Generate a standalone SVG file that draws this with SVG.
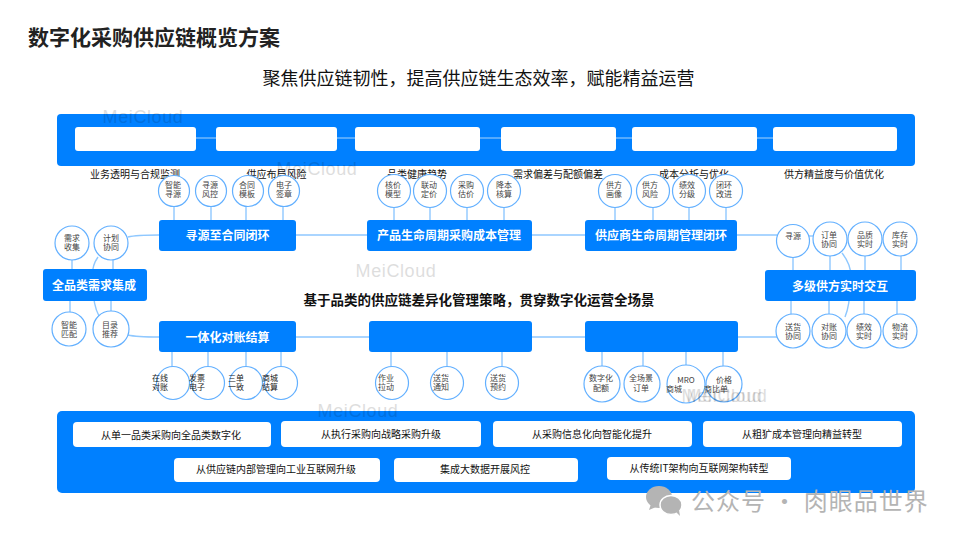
<svg xmlns="http://www.w3.org/2000/svg" width="960" height="540" viewBox="0 0 960 540">
<style>
text{font-family:"Noto Sans CJK SC","Microsoft YaHei",sans-serif;text-anchor:middle}
.band,.box{fill:#0080ff}
.w{fill:#fff}
.c{fill:#fff;stroke:#63b0ff;stroke-width:1.2}
.cx{fill:none;stroke:#63b0ff;stroke-width:1.2}
.ct{font-size:8px;fill:#444}
.cd{font-size:8px;fill:#222}
.bt{font-size:12px;font-weight:700;fill:#fff}
.lb{font-size:10px;fill:#111}
.wt{font-size:10px;fill:#111}
.wm{font-family:"Liberation Sans",sans-serif;font-size:18px;fill:#000;opacity:.13;letter-spacing:.6px}
#connectors path{fill:none;stroke:#8fc8ff;stroke-width:1.4}
#connectors path.th{stroke:#a9d4fb;stroke-width:1}
</style>
<rect width="960" height="540" fill="#fff"/>
<text x="154" y="45" font-size="21" font-weight="700" fill="#222">数字化采购供应链概览方案</text>
<text x="478.500" y="85" font-size="18" fill="#111">聚焦供应链韧性，提高供应链生态效率，赋能精益运营</text>
<text x="479" y="305" font-size="13.500" font-weight="700" fill="#111">基于品类的供应链差异化管理策略，贯穿数字化运营全场景</text>

<rect class="band" x="57" y="114" width="858" height="52" rx="4"/>
<rect class="band" x="57" y="411" width="858" height="82" rx="5"/>

<g id="connectors">
<path class="th" d="M196 138H216M337 138H355M480 138H501M616 138H632M757 138H773"/>
<path d="M174 207V220M211 207V220M246 207V220M283 207V220M394 207V220M430 207V220M467 207V220M504 208V220M615 208V220M653 208V220M689 208V220M726 208V220"/>
<path d="M296 235H367M532 235H585M737 235H777M296 337H369M532 337H585M738 337H777"/>
<path d="M809 236H814"/>
<path d="M128 237Q136 235 159 235M128 335Q136 337 159 337"/>
<path d="M72 260V269M113 260V269M70 301V312M111 301V311M793 257V270M830 256V270M865 256V270M901 256V270M791 301V314M829 301V314M864 301V314M897 301V314"/>
<path d="M172 352V367M208 352V367M246 352V367M281 352V367M391 352V367M447 352V367M502 352V367M602 352V366M643 352V366M686 352V365M723 352V366"/>
<path d="M98 257Q90 268 93 285Q93 305 99 316M842 253Q854 268 850 285Q850 305 845 317"/>
</g>

<g id="n-top1"><rect class="w" x="75" y="127" width="121" height="24" rx="3"/></g>
<g id="n-top2"><rect class="w" x="216" y="127" width="121" height="24" rx="3"/></g>
<g id="n-top3"><rect class="w" x="355" y="127" width="125" height="24" rx="3"/></g>
<g id="n-top4"><rect class="w" x="501" y="127" width="115" height="24" rx="3"/></g>
<g id="n-top5"><rect class="w" x="632" y="127" width="125" height="24" rx="3"/></g>
<g id="n-top6"><rect class="w" x="773" y="127" width="124" height="24" rx="3"/></g>

<g id="labels">
<text class="lb" x="135" y="178">业务透明与合规监测</text>
<text class="lb" x="276.500" y="178">供应布局风险</text>
<text class="lb" x="417" y="178">品类健康趋势</text>
<text class="lb" x="558" y="178">需求偏差与配额偏差</text>
<text class="lb" x="694" y="178">成本分析与优化</text>
<text class="lb" x="834" y="178">供方精益度与价值优化</text>
</g>

<g id="n-a1"><circle class="c" cx="174" cy="191" r="15.500"/><text class="ct" x="173" y="188">智能</text><text class="ct" x="173" y="197">寻源</text></g>
<g id="n-a2"><circle class="c" cx="211" cy="191" r="15.500"/><text class="ct" x="210" y="188">寻源</text><text class="ct" x="210" y="197">风控</text></g>
<g id="n-a3"><circle class="c" cx="248" cy="191" r="15.500"/><text class="ct" x="247" y="188">合同</text><text class="ct" x="247" y="197">模板</text></g>
<g id="n-a4"><circle class="c" cx="284" cy="191" r="15.500"/><text class="ct" x="284" y="188">电子</text><text class="ct" x="284" y="197">签章</text></g>
<g id="n-b1"><circle class="c" cx="394" cy="191" r="16.500"/><text class="ct" x="393" y="188">核价</text><text class="ct" x="393" y="197">模型</text></g>
<g id="n-b2"><circle class="c" cx="430" cy="191" r="16.500"/><text class="ct" x="429" y="188">联动</text><text class="ct" x="429" y="197">定价</text></g>
<g id="n-b3"><circle class="c" cx="467" cy="191" r="16.500"/><text class="ct" x="466" y="188">采购</text><text class="ct" x="466" y="197">估价</text></g>
<g id="n-b4"><circle class="c" cx="504" cy="191" r="16.500"/><text class="ct" x="504" y="188">降本</text><text class="ct" x="504" y="197">核算</text></g>
<g id="n-d1"><circle class="c" cx="615" cy="191" r="16.500"/><text class="ct" x="614" y="188">供方</text><text class="ct" x="614" y="197">画像</text></g>
<g id="n-d2"><circle class="c" cx="653" cy="191" r="16.500"/><text class="ct" x="650" y="188">供方</text><text class="ct" x="650" y="197">风险</text></g>
<g id="n-d3"><circle class="c" cx="689" cy="191" r="16.500"/><text class="ct" x="687" y="188">绩效</text><text class="ct" x="687" y="197">分级</text></g>
<g id="n-d4"><circle class="c" cx="726" cy="191" r="16.500"/><text class="ct" x="724" y="188">闭环</text><text class="ct" x="724" y="197">改进</text></g>

<g id="n-l1"><circle class="c" cx="72" cy="243" r="17"/><text class="ct" x="72" y="241">需求</text><text class="ct" x="72" y="250">收集</text></g>
<g id="n-l2"><circle class="c" cx="111" cy="243" r="17"/><text class="ct" x="111" y="241">计划</text><text class="ct" x="111" y="250">协同</text></g>
<g id="n-l3"><circle class="c" cx="69" cy="329" r="17"/><text class="ct" x="69" y="328">智能</text><text class="ct" x="69" y="337">匹配</text></g>
<g id="n-l4"><circle class="c" cx="111" cy="329" r="18"/><text class="ct" x="110" y="328">目录</text><text class="ct" x="110" y="337">推荐</text></g>

<g id="n-r1"><circle class="c" cx="793" cy="241" r="16.500"/><text class="ct" x="793" y="239">寻源</text></g>
<g id="n-r2"><circle class="c" cx="830" cy="239" r="17"/><text class="ct" x="829" y="238">订单</text><text class="ct" x="829" y="247">协同</text></g>
<g id="n-r3"><circle class="c" cx="865" cy="239" r="17"/><text class="ct" x="865" y="238">品质</text><text class="ct" x="865" y="247">实时</text></g>
<g id="n-r4"><circle class="c" cx="900" cy="239" r="17"/><text class="ct" x="900" y="238">库存</text><text class="ct" x="900" y="247">实时</text></g>
<g id="n-r5"><circle class="c" cx="793" cy="331" r="17"/><text class="ct" x="793" y="330">送货</text><text class="ct" x="793" y="339">协同</text></g>
<g id="n-r6"><circle class="c" cx="829" cy="331" r="17"/><text class="ct" x="829" y="330">对账</text><text class="ct" x="829" y="339">协同</text></g>
<g id="n-r7"><circle class="c" cx="864" cy="331" r="17"/><text class="ct" x="864" y="330">绩效</text><text class="ct" x="864" y="339">实时</text></g>
<g id="n-r8"><circle class="c" cx="900" cy="331" r="17"/><text class="ct" x="900" y="330">物流</text><text class="ct" x="900" y="339">实时</text></g>

<g id="n-e1"><circle class="c" cx="173" cy="383" r="16.500"/><text class="cd" x="160" y="381">在线</text><text class="cd" x="160" y="390">对账</text></g>
<g id="n-e2"><circle class="c" cx="208" cy="383" r="16.500"/><text class="cd" x="197" y="381">发票</text><text class="cd" x="197" y="390">电子</text></g>
<g id="n-e3"><circle class="c" cx="246" cy="383" r="16.500"/><text class="cd" x="236" y="381">三单</text><text class="cd" x="236" y="390">一致</text></g>
<g id="n-e4"><circle class="c" cx="281" cy="383" r="16.500"/><text class="cd" x="270" y="381">商城</text><text class="cd" x="270" y="390">结算</text></g>
<g id="n-f1"><circle class="c" cx="392" cy="383" r="16.500"/><text class="ct" x="386" y="381">作业</text><text class="ct" x="386" y="390">拉动</text></g>
<g id="n-f2"><circle class="c" cx="447" cy="383" r="16.500"/><text class="ct" x="441" y="381">送货</text><text class="ct" x="441" y="390">通知</text></g>
<g id="n-f3"><circle class="c" cx="502" cy="383" r="16.500"/><text class="ct" x="498" y="381">送货</text><text class="ct" x="498" y="390">预约</text></g>
<g id="n-g1"><circle class="c" cx="602" cy="384" r="18"/><text class="ct" x="601" y="381">数字化</text><text class="ct" x="601" y="391">配额</text></g>
<g id="n-g2"><circle class="c" cx="642" cy="384" r="18"/><text class="ct" x="641" y="381">全场景</text><text class="ct" x="641" y="391">订单</text></g>
<g id="n-g3"><circle class="c" cx="686" cy="384" r="19"/><text class="ct" x="686" y="383">MRO</text><text class="ct" x="674" y="392">商城</text></g>
<g id="n-g4"><circle class="c" cx="724" cy="384" r="18"/><text class="ct" x="724" y="383">价格</text><text class="ct" x="716" y="392">商比单</text></g>

<g id="n-s1"><rect class="box" x="159" y="220" width="137" height="31" rx="3"/><text class="bt" x="227.500" y="240">寻源至合同闭环</text></g>
<g id="n-s2"><rect class="box" x="367" y="220" width="165" height="31" rx="3"/><text class="bt" x="449" y="240">产品生命周期采购成本管理</text></g>
<g id="n-s3"><rect class="box" x="585" y="220" width="152" height="31" rx="3"/><text class="bt" x="661" y="240">供应商生命周期管理闭环</text></g>
<g id="n-s4"><rect class="box" x="43" y="269" width="104" height="32" rx="3"/><text class="bt" x="94" y="290">全品类需求集成</text></g>
<g id="n-s5"><rect class="box" x="765" y="270" width="151" height="31" rx="3"/><text class="bt" x="840" y="291">多级供方实时交互</text></g>
<g id="n-s6"><rect class="box" x="159" y="321" width="137" height="31" rx="3"/><text class="bt" x="227.500" y="342">一体化对账结算</text></g>
<g id="n-s7"><rect class="box" x="369" y="321" width="163" height="31" rx="3"/></g>
<g id="n-s8"><rect class="box" x="585" y="321" width="153" height="31" rx="3"/></g>

<g id="n-p1"><rect class="w" x="73" y="422" width="198" height="25" rx="4"/><text class="wt" x="171" y="439">从单一品类采购向全品类数字化</text></g>
<g id="n-p2"><rect class="w" x="281" y="421" width="200" height="26" rx="4"/><text class="wt" x="381" y="438">从执行采购向战略采购升级</text></g>
<g id="n-p3"><rect class="w" x="493" y="421" width="199" height="26" rx="4"/><text class="wt" x="592" y="438">从采购信息化向智能化提升</text></g>
<g id="n-p4"><rect class="w" x="703" y="421" width="199" height="26" rx="4"/><text class="wt" x="802" y="438">从粗犷成本管理向精益转型</text></g>
<g id="n-p5"><rect class="w" x="174" y="458" width="206" height="24" rx="4"/><text class="wt" x="276" y="473">从供应链内部管理向工业互联网升级</text></g>
<g id="n-p6"><rect class="w" x="394" y="458" width="184" height="24" rx="4"/><text class="wt" x="485" y="473">集成大数据开展风控</text></g>
<g id="n-p7"><rect class="w" x="607" y="457" width="184" height="23" rx="4"/><text class="wt" x="699" y="472">从传统IT架构向互联网架构转型</text></g>

<g id="watermarks">
<text class="wm" x="143" y="123">MeiCloud</text>
<text class="wm" x="317" y="175">MeiCloud</text>
<text class="wm" x="396" y="277">MeiCloud</text>
<text class="wm" x="358" y="417">MeiCloud</text>
<text class="wm" x="722" y="402">MeiCloud</text>
<text class="wm" x="727" y="402">MeiCloud</text>
</g>
<g id="wechat" fill="#b4b4b4">
<ellipse cx="659" cy="497" rx="13" ry="11"/>
<path d="M651 504l-2 6 7-3z"/>
<ellipse cx="671" cy="505" rx="11" ry="9.500" stroke="#fff" stroke-width="1.500"/>
<path d="M676 512l4 4-1-6z"/>
<text x="810" y="510" font-size="24" letter-spacing="1" style="fill:#b4b4b4">公众号 · 肉眼品世界</text>
</g>
</svg>
